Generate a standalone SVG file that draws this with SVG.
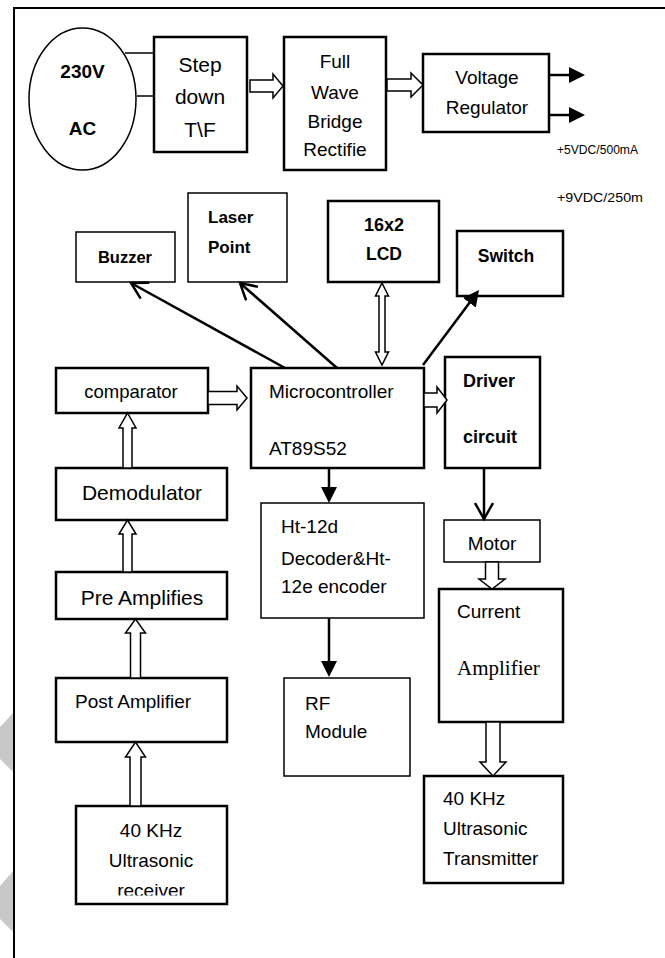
<svg xmlns="http://www.w3.org/2000/svg" width="665" height="958" viewBox="0 0 665 958">
<style>
.t{font-family:"Liberation Sans",Arial,sans-serif;fill:#000}
.b{font-weight:bold}
.m{text-anchor:middle}
.s{font-family:"Liberation Serif","Times New Roman",serif;fill:#000}
.box{fill:#fff;stroke:#000;stroke-width:2.5}
.thin{fill:#fff;stroke:#000;stroke-width:1.5}
.hol{fill:#fff;stroke:#000;stroke-width:1.5;stroke-linejoin:miter}
.ln{stroke:#000;stroke-width:2.5;fill:none}
</style>
<defs>
<marker id="fa" viewBox="0 0 16 16" refX="3" refY="8" markerWidth="16" markerHeight="16" orient="auto" markerUnits="userSpaceOnUse"><path d="M0,0 L16,8 L0,16 Z" fill="#000"/></marker>
<marker id="oa" viewBox="0 0 20 20" refX="17" refY="10" markerWidth="20" markerHeight="20" orient="auto" markerUnits="userSpaceOnUse"><path d="M1,1 L17,10 L1,19" fill="none" stroke="#000" stroke-width="2.5"/></marker>
<clipPath id="cut"><rect x="76" y="806" width="151" height="89.5"/></clipPath>
</defs>
<rect width="665" height="958" fill="#fff"/>
<g id="watermark" fill="#c8c8c8">
<polygon points="14,712 14,773 0,759 0,727"/>
<polygon points="14,870 14,933 0,919 0,886"/>
</g>
<path d="M14,958 L14,8 L665,8" fill="none" stroke="#000" stroke-width="2"/>

<g id="ac">
<ellipse cx="82.5" cy="99" rx="53.5" ry="71" fill="#fff" stroke="#000" stroke-width="1.5"/>
<text class="t b m" x="82.5" y="78" font-size="19">230V</text>
<text class="t b m" x="82.5" y="135" font-size="19">AC</text>
</g>
<g id="stepdown">
<rect class="box" x="154" y="37" width="93" height="115"/>
<text class="t m" x="200" y="72" font-size="21">Step</text>
<text class="t m" x="200" y="104" font-size="21">down</text>
<text class="t m" x="200" y="137" font-size="21">T\F</text>
</g>
<g id="rectifier">
<rect class="box" x="284" y="37" width="102" height="133"/>
<text class="t m" x="335" y="68" font-size="19">Full</text>
<text class="t m" x="335" y="99" font-size="19">Wave</text>
<text class="t m" x="335" y="128" font-size="19">Bridge</text>
<text class="t m" x="335" y="156" font-size="19">Rectifie</text>
</g>
<g id="regulator">
<rect class="box" x="423" y="54" width="126" height="78"/>
<text class="t m" x="487" y="84" font-size="19">Voltage</text>
<text class="t m" x="487" y="114" font-size="19">Regulator</text>
</g>
<g id="labels">
<text class="t" x="557" y="154" font-size="12" textLength="81" lengthAdjust="spacingAndGlyphs">+5VDC/500mA</text>
<text class="t" x="557" y="202" font-size="12.5" textLength="86" lengthAdjust="spacingAndGlyphs">+9VDC/250m</text>
</g>
<g id="buzzer">
<rect class="thin" x="76" y="232" width="99" height="50"/>
<text class="t b m" x="125" y="263" font-size="16.5">Buzzer</text>
</g>
<g id="laser">
<rect class="thin" x="188" y="193" width="99" height="89"/>
<text class="t b" x="208" y="223" font-size="17">Laser</text>
<text class="t b" x="208" y="253" font-size="17">Point</text>
</g>
<g id="lcd">
<rect class="box" x="328" y="201" width="111" height="81" stroke-width="3"/>
<text class="t b m" x="384" y="231" font-size="18">16x2</text>
<text class="t b m" x="384" y="260" font-size="17.5">LCD</text>
</g>
<g id="switch">
<rect class="box" x="457" y="231" width="106" height="65"/>
<text class="t b m" x="506" y="262" font-size="17.5">Switch</text>
</g>
<g id="comparator">
<rect class="box" x="56" y="368" width="152" height="45"/>
<text class="t m" x="131" y="398" font-size="18.5">comparator</text>
</g>
<g id="mcu">
<rect class="box" x="251" y="368" width="173" height="100"/>
<text class="t" x="269" y="398" font-size="19">Microcontroller</text>
<text class="t" x="269" y="455" font-size="19">AT89S52</text>
</g>
<g id="driver">
<rect class="box" x="445" y="357" width="95" height="111"/>
<text class="t b" x="463" y="387" font-size="18">Driver</text>
<text class="t b" x="463" y="443" font-size="18">circuit</text>
</g>
<g id="demodulator">
<rect class="box" x="56" y="468" width="171" height="52"/>
<text class="t m" x="142" y="500" font-size="21">Demodulator</text>
</g>
<g id="encoder">
<rect class="thin" x="261" y="503" width="163" height="115"/>
<text class="t" x="281" y="533" font-size="19">Ht-12d</text>
<text class="t" x="281" y="565" font-size="19">Decoder&amp;Ht-</text>
<text class="t" x="281" y="593" font-size="19">12e encoder</text>
</g>
<g id="motor">
<rect class="thin" x="444" y="520" width="96" height="42"/>
<text class="t m" x="492" y="550" font-size="19">Motor</text>
</g>
<g id="preamp">
<rect class="box" x="56" y="572" width="171" height="47"/>
<text class="t m" x="142" y="605" font-size="21">Pre Amplifies</text>
</g>
<g id="currentamp">
<rect class="box" x="439" y="589" width="124" height="133"/>
<text class="t" x="457" y="618" font-size="19">Current</text>
<text class="s" x="457" y="675" font-size="21">Amplifier</text>
</g>
<g id="postamp">
<rect class="box" x="56" y="678" width="171" height="64"/>
<text class="t" x="75" y="708" font-size="19">Post Amplifier</text>
</g>
<g id="rf">
<rect class="thin" x="284" y="678" width="126" height="98"/>
<text class="t" x="305" y="710" font-size="19">RF</text>
<text class="t" x="305" y="738" font-size="19">Module</text>
</g>
<g id="receiver">
<rect class="box" x="76" y="806" width="151" height="98"/>
<text class="t m" x="151" y="837" font-size="19">40 KHz</text>
<text class="t m" x="151" y="867" font-size="19">Ultrasonic</text>
<text class="t m" x="151" y="897" font-size="19" clip-path="url(#cut)">receiver</text>
</g>
<g id="transmitter">
<rect class="box" x="424" y="776" width="139" height="107"/>
<text class="t" x="443" y="805" font-size="19">40 KHz</text>
<text class="t" x="443" y="835" font-size="19">Ultrasonic</text>
<text class="t" x="443" y="865" font-size="19">Transmitter</text>
</g>

<g id="connectors">
<line x1="125" y1="53" x2="154" y2="53" stroke="#000" stroke-width="1.5"/>
<line x1="137" y1="96" x2="154" y2="96" stroke="#000" stroke-width="1.5"/>
<path class="hol" d="M250,80 L273,80 L273,74 L283,86 L273,98 L273,92 L250,92 Z"/>
<path class="hol" d="M387,79 L411,79 L411,73 L423,85 L411,97 L411,91 L387,91 Z"/>
<line class="ln" x1="550" y1="75" x2="572" y2="75" marker-end="url(#fa)"/>
<line class="ln" x1="550" y1="115" x2="572" y2="115" marker-end="url(#fa)"/>
<line class="ln" x1="285" y1="368" x2="131" y2="283" marker-end="url(#oa)"/>
<line class="ln" x1="337" y1="368" x2="240" y2="283" marker-end="url(#oa)"/>
<path class="hol" d="M382,283 L388.5,296 L385,296 L385,352 L388.5,352 L382,365 L375.5,352 L379,352 L379,296 L375.5,296 Z"/>
<line class="ln" x1="423" y1="365" x2="471.2" y2="300.4" marker-end="url(#fa)"/>
<path class="hol" d="M208,391.5 L237,391.5 L237,386 L247,398 L237,410 L237,404.5 L208,404.5 Z"/>
<path class="hol" d="M424,393 L437,393 L437,387 L447,400 L437,413 L437,407 L424,407 Z"/>
<line class="ln" x1="329" y1="468" x2="329" y2="490" marker-end="url(#fa)"/>
<line class="ln" x1="484" y1="468" x2="484" y2="519" marker-end="url(#oa)"/>
<path class="hol" d="M123,468 L123,428 L119,428 L127.5,413 L136,428 L132,428 L132,468 Z"/>
<path class="hol" d="M123,572 L123,534 L119,534 L127.5,520 L136,534 L132,534 L132,572 Z"/>
<path class="hol" d="M130.5,678 L130.5,633 L125.5,633 L135.5,619 L145.5,633 L140.5,633 L140.5,678 Z"/>
<path class="hol" d="M130,806 L130,757 L125.5,757 L135.5,742 L145.5,757 L141,757 L141,806 Z"/>
<path class="hol" d="M485.5,562 L485.5,579 L479,579 L492,589 L505,579 L498.5,579 L498.5,562 Z"/>
<path class="hol" d="M486,722 L486,762 L480,762 L493,776 L506,762 L500,762 L500,722 Z"/>
<line class="ln" x1="329" y1="618" x2="329" y2="664" marker-end="url(#fa)"/>
</g>
</svg>
